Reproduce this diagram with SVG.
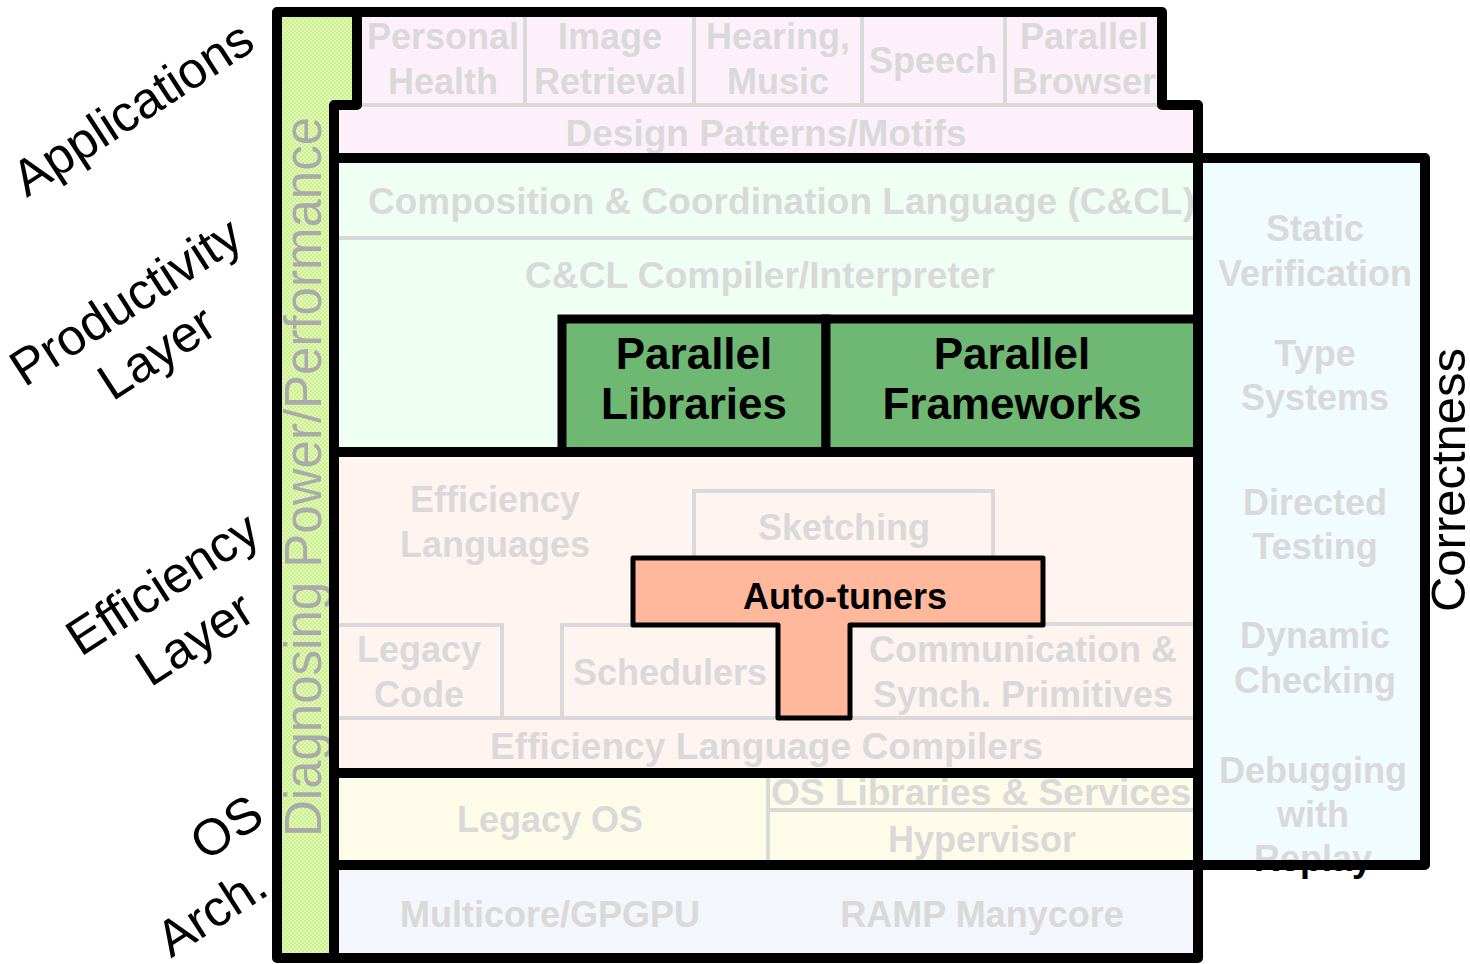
<svg xmlns="http://www.w3.org/2000/svg" width="1470" height="964" viewBox="0 0 1470 964">
<style>
.g{font-family:"Liberation Sans",Arial,sans-serif;font-weight:bold;font-size:36px;fill:#d9d9d9;text-anchor:middle}
.b{font-family:"Liberation Sans",Arial,sans-serif;font-weight:bold;fill:#000;text-anchor:middle}
.lbl{font-family:"Liberation Sans",Arial,sans-serif;font-size:51px;fill:#000;text-anchor:middle}
.frame{fill:none;stroke:#000;stroke-width:10;stroke-linejoin:round;stroke-linecap:square}
.gl{fill:none;stroke:#d9d9d9;stroke-width:4}
</style>
<defs>
<pattern id="chk" width="4" height="4" patternUnits="userSpaceOnUse">
<rect width="4" height="4" fill="#e0fab6"/>
<rect width="2" height="2" fill="#ccf091"/>
<rect x="2" y="2" width="2" height="2" fill="#ccf091"/>
</pattern>
<linearGradient id="replayFill" gradientUnits="userSpaceOnUse" x1="0" y1="840" x2="0" y2="885">
<stop offset="0" stop-color="#d9d9d9"/>
<stop offset="0.64" stop-color="#d9d9d9"/>
<stop offset="0.64" stop-color="#000"/>
<stop offset="1" stop-color="#000"/>
</linearGradient>
</defs>

<g id="diagnosing">
<path d="M282,17 H352 V100 H329 V953 H282 Z" fill="url(#chk)"/>
<text transform="translate(321,477) rotate(-90)" style="font-family:'Liberation Sans',Arial,sans-serif;font-size:51px;fill:#aaaaaa;text-anchor:middle">Diagnosing Power/Performance</text>
</g>

<g id="applications">
<rect x="357" y="12" width="805" height="93" fill="#fdf0fb"/>
<rect x="334" y="105" width="864" height="53" fill="#fdf0fb"/>
<path class="gl" d="M525,17 V104 M694,17 V104 M862,17 V104 M1005,17 V104 M339,105 H1193"/>
<text class="g" x="443" y="49">Personal</text>
<text class="g" x="443" y="94">Health</text>
<text class="g" x="610" y="49">Image</text>
<text class="g" x="610" y="94">Retrieval</text>
<text class="g" x="778" y="49">Hearing,</text>
<text class="g" x="778" y="94">Music</text>
<text class="g" x="933" y="73">Speech</text>
<text class="g" x="1084" y="49">Parallel</text>
<text class="g" x="1084" y="94">Browser</text>
<text class="g" x="766" y="146" textLength="401" lengthAdjust="spacingAndGlyphs">Design Patterns/Motifs</text>
</g>

<g id="productivity">
<rect x="334" y="158" width="864" height="294" fill="#effff4"/>
<line class="gl" x1="339" y1="238" x2="1193" y2="238"/>
<text class="g" x="368" y="214" style="text-anchor:start" textLength="827" lengthAdjust="spacingAndGlyphs">Composition &amp; Coordination Language (C&amp;CL)</text>
<text class="g" x="525" y="288" style="text-anchor:start" textLength="470" lengthAdjust="spacingAndGlyphs">C&amp;CL Compiler/Interpreter</text>
</g>

<g id="parallel-libraries">
<rect x="562" y="319" width="264" height="133" fill="#6fb874" stroke="#000" stroke-width="9"/>
<text class="b" x="694" y="369" font-size="44">Parallel</text>
<text class="b" x="694" y="419" font-size="44">Libraries</text>
</g>
<g id="parallel-frameworks">
<rect x="826" y="319" width="372" height="133" fill="#6fb874" stroke="#000" stroke-width="9"/>
<text class="b" x="1012" y="369" font-size="44">Parallel</text>
<text class="b" x="1012" y="419" font-size="44">Frameworks</text>
</g>

<g id="efficiency">
<rect x="334" y="452" width="864" height="321" fill="#fff4f0"/>
<text class="g" x="495" y="512">Efficiency</text>
<text class="g" x="495" y="557">Languages</text>
<rect class="gl" x="694" y="491" width="299" height="110"/>
<text class="g" x="844" y="540">Sketching</text>
<path class="gl" d="M339,625 H502 V718 M562,718 V625 H640 M850,624 H1193 M339,718 H1193"/>
<text class="g" x="419" y="662">Legacy</text>
<text class="g" x="419" y="707">Code</text>
<text class="g" x="670" y="685">Schedulers</text>
<text class="g" x="1023" y="662">Communication &amp;</text>
<text class="g" x="1023" y="707">Synch. Primitives</text>
<text class="g" x="490" y="759" style="text-anchor:start" textLength="553" lengthAdjust="spacingAndGlyphs">Efficiency Language Compilers</text>
</g>

<g id="auto-tuners">
<path d="M633,558 H1043 V625 H850 V718 H778 V625 H633 Z" fill="#ffb89c" stroke="#000" stroke-width="5" stroke-linejoin="round"/>
<text class="b" x="845" y="609" font-size="36">Auto-tuners</text>
</g>

<g id="os">
<rect x="334" y="773" width="864" height="92" fill="#fefbe9"/>
<path class="gl" d="M768,777 V861 M768,810 H1193"/>
<text class="g" x="550" y="832">Legacy OS</text>
<text class="g" x="771" y="805" style="text-anchor:start" textLength="420" lengthAdjust="spacingAndGlyphs">OS Libraries &amp; Services</text>
<text class="g" x="982" y="852">Hypervisor</text>
</g>

<g id="arch">
<rect x="334" y="865" width="864" height="93" fill="#f3f6fc"/>
<text class="g" x="550" y="927">Multicore/GPGPU</text>
<text class="g" x="982" y="927">RAMP Manycore</text>
</g>

<g id="correctness">
<rect x="1198" y="158" width="227" height="707" fill="#f0fcff"/>
<text class="g" x="1315" y="241">Static</text>
<text class="g" x="1315" y="286">Verification</text>
<text class="g" x="1315" y="366">Type</text>
<text class="g" x="1315" y="410">Systems</text>
<text class="g" x="1315" y="515">Directed</text>
<text class="g" x="1315" y="559">Testing</text>
<text class="g" x="1315" y="648">Dynamic</text>
<text class="g" x="1315" y="693">Checking</text>
<text class="g" x="1313" y="783">Debugging</text>
<text class="g" x="1313" y="827">with</text>
<text class="g" x="1313" y="871" style="fill:url(#replayFill)">Replay</text>
<text transform="translate(1465,480) rotate(-90)" style="font-family:'Liberation Sans',Arial,sans-serif;font-size:49px;fill:#000;text-anchor:middle">Correctness</text>
</g>

<g id="frame">
<path class="frame" d="M277,958 V12 H1162 V105 H1198 V958 Z"/>
<path class="frame" d="M357,12 V105 H334 V958"/>
<path class="frame" d="M334,158 H1198 M334,452 H1198 M334,773 H1198 M334,865 H1198"/>
<path class="frame" d="M1198,158 H1425 V865 H1198" stroke-width="9"/>
</g>

<g id="connectors"></g>

<g id="layer-labels">
<text class="lbl" transform="translate(142,123) rotate(-33)">Applications</text>
<text class="lbl" transform="translate(135,316) rotate(-33)">Productivity</text>
<text class="lbl" transform="translate(166,367) rotate(-33)">Layer</text>
<text class="lbl" transform="translate(172,598) rotate(-33)">Efficiency</text>
<text class="lbl" transform="translate(204,653) rotate(-33)">Layer</text>
<text class="lbl" transform="translate(236,842) rotate(-33)">OS</text>
<text class="lbl" transform="translate(221,926) rotate(-33)">Arch.</text>
</g>
</svg>
